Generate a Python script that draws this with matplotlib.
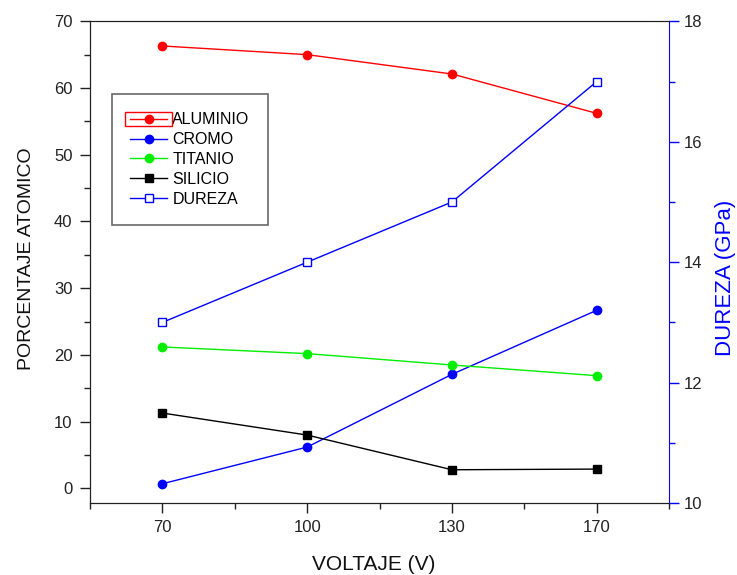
import matplotlib
matplotlib.use("Agg")
import matplotlib.pyplot as plt
from matplotlib.patches import Rectangle
from matplotlib.ticker import FixedLocator

plt.rcParams['font.family'] = ['Liberation Sans', 'DejaVu Sans']

# datos
VOLTAJE = ["70", "100", "130", "170"]
ALUMINIO = [66.3, 65.0, 62.1, 56.2]
CROMO = [0.7, 6.2, 17.1, 26.7]
TITANIO = [21.2, 20.2, 18.5, 16.9]
SILICIO = [11.3, 8.0, 2.8, 2.9]
DUREZA = [13.0, 14.0, 15.0, 17.0]

x = list(range(len(VOLTAJE)))

fig = plt.figure(figsize=(7.37, 5.75), dpi=100)
ax = fig.add_axes([0.122, 0.125, 0.786, 0.838])
ax2 = ax.twinx()

l1, = ax.plot(x, ALUMINIO, color='red', marker='o', markersize=6, lw=1, label='ALUMINIO')
l2, = ax.plot(x, CROMO, color='blue', marker='o', markersize=6, lw=1, label='CROMO')
l3, = ax.plot(x, TITANIO, color='#00ee00', marker='o', markersize=6, lw=1, label='TITANIO')
l4, = ax.plot(x, SILICIO, color='black', marker='s', markersize=6, lw=1, label='SILICIO')
l5, = ax2.plot(x, DUREZA, color='blue', marker='s', markersize=6, lw=1,
               markerfacecolor='white', markeredgewidth=1, label='DUREZA')

ax.set_xlim(-0.5, 3.5)
ax.set_ylim(-2.2, 70)
ax2.set_ylim(10, 18)

ax.set_xticks(x)
ax.set_xticklabels(VOLTAJE)
ax.xaxis.set_minor_locator(FixedLocator([-0.5, 0.5, 1.5, 2.5, 3.5]))
ax.set_yticks(range(0, 71, 10))
ax.yaxis.set_minor_locator(FixedLocator(range(5, 70, 10)))
ax2.set_yticks(range(10, 19, 2))
ax2.yaxis.set_minor_locator(FixedLocator(range(11, 18, 2)))

ax.tick_params(axis='both', which='major', direction='out', length=7, width=1,
               labelsize=12, colors='#222222', pad=5.5)
ax.tick_params(axis='both', which='minor', direction='out', length=4, width=1, colors='#222222')
ax.tick_params(axis='x', which='both', top=False)
ax2.tick_params(axis='y', which='major', direction='out', length=7, width=1,
                labelsize=12, color='blue', labelcolor='#222222')
ax2.tick_params(axis='y', which='minor', direction='out', length=4, width=1, color='blue')

for s in ['left', 'bottom', 'top']:
    ax.spines[s].set_color('#222222')
    ax2.spines[s].set_color('#222222')
ax2.spines['right'].set_color('blue')
ax.spines['right'].set_visible(False)

ax.set_xlabel('VOLTAJE (V)', fontsize=15, color='#111111')
ax.xaxis.set_label_coords(0.49, -0.108)
ax.set_ylabel('PORCENTAJE ATOMICO', fontsize=14, color='#111111')
ax.yaxis.set_label_coords(-0.095, 0.508)
ax2.set_ylabel('DUREZA (GPa)', fontsize=16, color='blue')
ax2.yaxis.set_label_coords(1.079, 0.468)

leg = ax.legend(handles=[l1, l2, l3, l4, l5], loc='upper left',
                bbox_to_anchor=(0.038, 0.849), borderaxespad=0, fontsize=11.5,
                frameon=True, fancybox=False, edgecolor='#444444', handlelength=2.3,
                handletextpad=0.33, labelspacing=0.3, borderpad=1.15)
leg.get_frame().set_linewidth(1.2)

# recuadro rojo de seleccion alrededor del primer simbolo
fig.canvas.draw()
bb = leg.get_lines()[0].get_window_extent()
cy = (bb.y0 + bb.y1) / 2
fig.patches.append(Rectangle((bb.x0 - 1, cy - 7), bb.width + 2, 14,
                             transform=None, fill=False, edgecolor='red', lw=1))

fig.savefig('out.png', dpi=100)
